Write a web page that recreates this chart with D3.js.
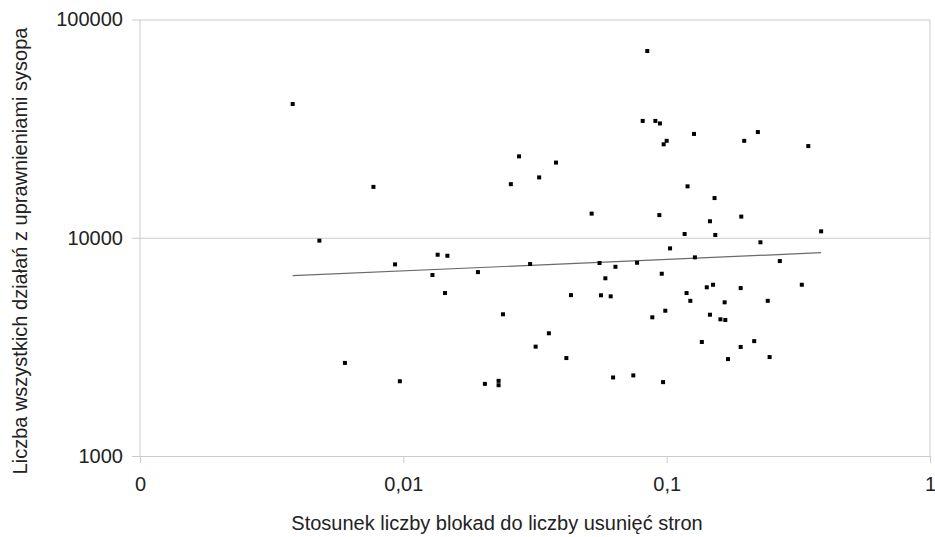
<!DOCTYPE html>
<html>
<head>
<meta charset="utf-8">
<script src="https://cdn.jsdelivr.net/npm/d3@7"></script>
<style>
  body { margin: 0; background: #fff; }
  text { font-family: "Liberation Sans", Arial, sans-serif; fill: #222; }
</style>
</head>
<body>
<div id="chart"></div>
<script>
// ratio of blocks to page deletions (x) vs. all sysop actions (y)
var ratio = [
  0.0038, 0.0048, 0.0077, 0.0093, 0.0060, 0.0097, 0.0135, 0.0147, 0.0129, 0.0144,
  0.0192, 0.0204, 0.0230, 0.0230, 0.0239, 0.0303, 0.0318, 0.0357, 0.0416, 0.0433,
  0.0256, 0.0275, 0.0328, 0.0380, 0.0519, 0.0556, 0.0639, 0.0772, 0.0585, 0.0563,
  0.0613, 0.128, 0.269, 0.0958, 0.119, 0.123, 0.142, 0.150, 0.191, 0.166,
  0.242, 0.326, 0.0882, 0.0988, 0.146, 0.160, 0.167, 0.136, 0.191, 0.215,
  0.171, 0.246, 0.0626, 0.0747, 0.0969, 0.0844, 0.0811, 0.0906, 0.0943, 0.127,
  0.100, 0.0974, 0.197, 0.222, 0.345, 0.120, 0.152, 0.0938, 0.146, 0.192,
  0.386, 0.117, 0.153, 0.227, 0.103
];
var actions = [
  41000, 9700, 17100, 7550, 2670, 2200, 8360, 8270, 6750, 5580,
  6960, 2140, 2210, 2110, 4460, 7580, 3170, 3650, 2810, 5460,
  17600, 23600, 18900, 22100, 12900, 7660, 7360, 7680, 6520, 5450,
  5390, 8130, 7820, 6840, 5580, 5140, 5930, 6090, 5880, 5060,
  5140, 6090, 4320, 4630, 4440, 4230, 4200, 3330, 3160, 3360,
  2780, 2840, 2290, 2340, 2180, 71700, 34300, 34300, 33400, 29900,
  27800, 26800, 27800, 30500, 26300, 17200, 15200, 12700, 11900, 12500,
  10700, 10400, 10300, 9530, 8940
];
// power trend line end points
var trendX = [0.0038, 0.386];
var trendY = [6700, 8540];

var xTicks = [0.001, 0.01, 0.1, 1];
var xTickLabels = ["0", "0,01", "0,1", "1"];
var yTicks = [1000, 10000, 100000];

var margin = {top: 19.5, right: 5, bottom: 81, left: 140},
    width = 935 - margin.left - margin.right,
    height = 537 - margin.top - margin.bottom;

var svg = d3.select("#chart").append("svg")
    .attr("width", 935)
    .attr("height", 537);

var g = svg.append("g")
    .attr("transform", "translate(" + margin.left + "," + margin.top + ")");

var x = d3.scaleLog().domain([0.001, 1]).range([0, width]);
var y = d3.scaleLog().domain([1000, 100000]).range([height, 0]);

// horizontal gridlines + left ticks
var yAxis = d3.axisLeft(y)
    .tickValues(yTicks)
    .tickFormat(d3.format("d"))
    .tickSize(-width - 8);
g.append("g")
    .attr("class", "y axis")
    .attr("transform", "translate(-8,0)")
    .call(yAxis)
    .call(function(s) {
        s.select(".domain").remove();
        s.selectAll("line").attr("stroke", "#cbcbcb");
        s.selectAll("text").style("font-size", "20px").attr("x", -9);
    });

var xAxis = d3.axisBottom(x)
    .tickValues(xTicks)
    .tickFormat(function(d, i) { return xTickLabels[i]; })
    .tickSize(7)
    .tickPadding(14);
g.append("g")
    .attr("class", "x axis")
    .attr("transform", "translate(0," + height + ")")
    .call(xAxis)
    .call(function(s) {
        s.select(".domain").remove();
        s.selectAll("line").attr("stroke", "#cbcbcb");
        s.selectAll("text").style("font-size", "20px");
    });

// left axis and right border
g.append("line")
    .attr("x1", 0).attr("x2", 0)
    .attr("y1", 0).attr("y2", height)
    .style("stroke", "#cbcbcb");
g.append("line")
    .attr("x1", width).attr("x2", width)
    .attr("y1", 0).attr("y2", height)
    .style("stroke", "#cbcbcb");

// trend line
g.append("line")
    .attr("x1", x(trendX[0])).attr("y1", y(trendY[0]))
    .attr("x2", x(trendX[1])).attr("y2", y(trendY[1]))
    .style("stroke", "#6a6a6a")
    .style("stroke-width", 1.2);

// points
g.selectAll("rect.pt")
    .data(ratio)
    .enter().append("rect")
    .attr("class", "pt")
    .attr("x", function(d) { return x(d) - 2; })
    .attr("y", function(d, i) { return y(actions[i]) - 2; })
    .attr("width", 4)
    .attr("height", 4)
    .style("fill", "#000");

// axis titles
svg.append("text")
    .attr("x", 497)
    .attr("y", 530)
    .attr("text-anchor", "middle")
    .style("font-size", "20px")
    .text("Stosunek liczby blokad do liczby usunięć stron");

svg.append("text")
    .attr("transform", "translate(27,251) rotate(-90)")
    .attr("text-anchor", "middle")
    .style("font-size", "20px")
    .text("Liczba wszystkich działań z uprawnieniami sysopa");
</script>
</body>
</html>
